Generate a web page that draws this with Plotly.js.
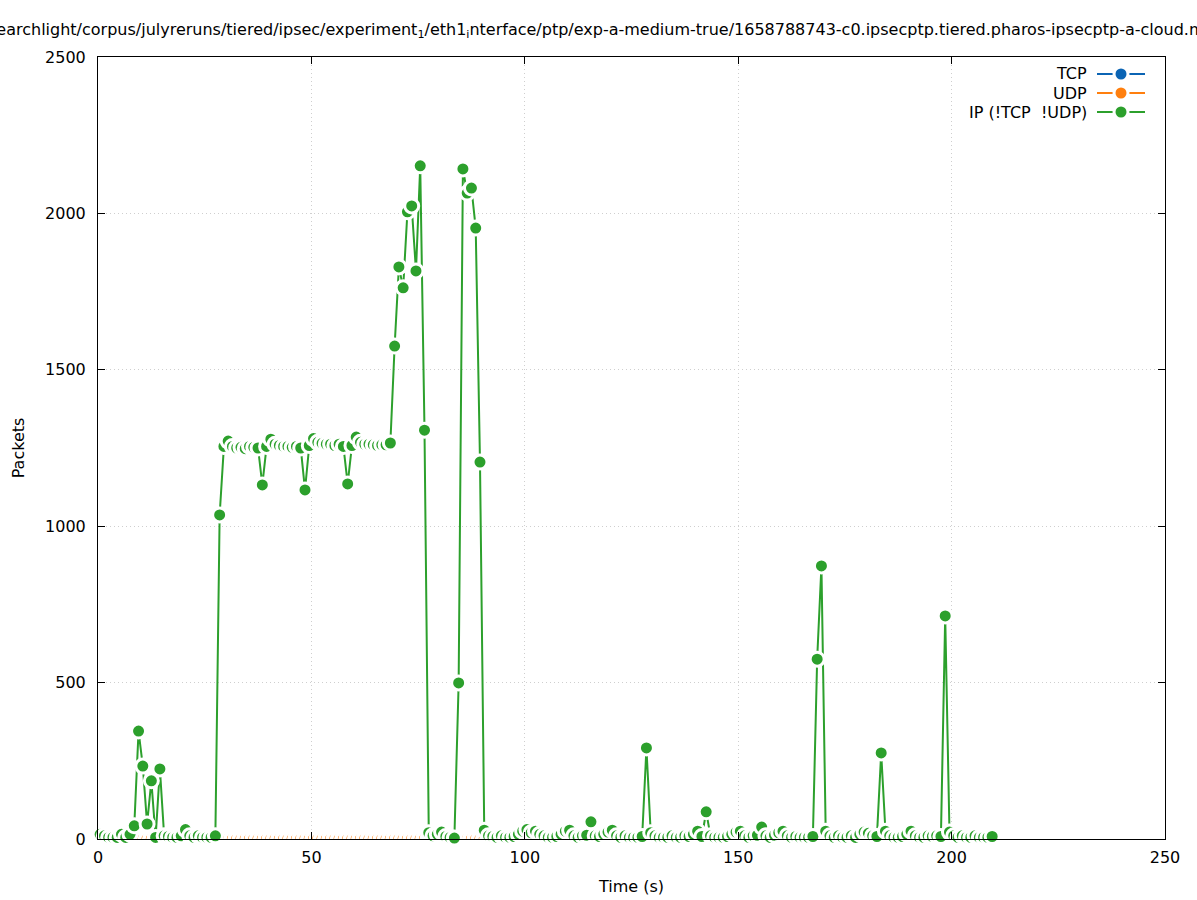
<!DOCTYPE html>
<html>
<head>
<meta charset="utf-8">
<script src="https://cdn.plot.ly/plotly-3.0.1.min.js"></script>
<style>html,body{margin:0;padding:0;background:#fff;}#chart{width:1197px;height:900px;}</style>
</head>
<body>
<div id="chart"></div>
<script>
// Sample times (s)
const times = [
  0.5,1.5,2.5,3.5,4.5,5.5,6.5,7.5,8.5,9.5,
  10.5,11.5,12.5,13.5,14.5,15.5,16.5,17.5,18.5,19.5,
  20.5,21.5,22.5,23.5,24.5,25.5,26.5,27.5,28.5,29.5,
  30.5,31.5,32.5,33.5,34.5,35.5,36.5,37.5,38.5,39.5,
  40.5,41.5,42.5,43.5,44.5,45.5,46.5,47.5,48.5,49.5,
  50.5,51.5,52.5,53.5,54.5,55.5,56.5,57.5,58.5,59.5,
  60.5,61.5,62.5,63.5,64.5,65.5,66.5,67.5,68.5,69.5,
  70.5,71.5,72.5,73.5,74.5,75.5,76.5,77.5,78.5,79.5,
  80.5,81.5,82.5,83.5,84.5,85.5,86.5,87.5,88.5,89.5,
  90.5,91.5,92.5,93.5,94.5,95.5,96.5,97.5,98.5,99.5,
  100.5,101.5,102.5,103.5,104.5,105.5,106.5,107.5,108.5,109.5,
  110.5,111.5,112.5,113.5,114.5,115.5,116.5,117.5,118.5,119.5,
  120.5,121.5,122.5,123.5,124.5,125.5,126.5,127.5,128.5,129.5,
  130.5,131.5,132.5,133.5,134.5,135.5,136.5,137.5,138.5,139.5,
  140.5,141.5,142.5,143.5,144.5,145.5,146.5,147.5,148.5,149.5,
  150.5,151.5,152.5,153.5,154.5,155.5,156.5,157.5,158.5,159.5,
  160.5,161.5,162.5,163.5,164.5,165.5,166.5,167.5,168.5,169.5,
  170.5,171.5,172.5,173.5,174.5,175.5,176.5,177.5,178.5,179.5,
  180.5,181.5,182.5,183.5,184.5,185.5,186.5,187.5,188.5,189.5,
  190.5,191.5,192.5,193.5,194.5,195.5,196.5,197.5,198.5,199.5,
  200.5,201.5,202.5,203.5,204.5,205.5,206.5,207.5,208.5,209.5
];

// TCP packets per interval
const tcpPackets = [
  0,0,0,0,0,0,0,0,0,0, 0,0,0,0,0,0,0,0,0,0, 0,0,0,0,0,0,0,0,0,0,
  0,0,0,0,0,0,0,0,0,0, 0,0,0,0,0,0,0,0,0,0, 0,0,0,0,0,0,0,0,0,0,
  0,0,0,0,0,0,0,0,0,0, 0,0,0,0,0,0,0,0,0,0, 0,0,0,0,0,0,0,0,0,0,
  0,0,0,0,0,0,0,0,0,0, 0,0,0,0,0,0,0,0,0,0, 0,0,0,0,0,0,0,0,0,0,
  0,0,0,0,0,0,0,0,0,0, 0,0,0,0,0,0,0,0,0,0, 0,0,0,0,0,0,0,0,0,0,
  0,0,0,0,0,0,0,0,0,0, 0,0,0,0,0,0,0,0,0,0, 0,0,0,0,0,0,0,0,0,0,
  0,0,0,0,0,0,0,0,0,0, 0,0,0,0,0,0,0,0,0,0, 0,0,0,0,0,0,0,0,0,0
];

// UDP packets per interval
const udpPackets = [
  0,0,0,0,0,0,0,0,0,0, 0,0,0,0,0,0,0,0,0,0, 0,0,0,0,0,0,0,0,0,0,
  0,0,0,0,0,0,0,0,0,0, 0,0,0,0,0,0,0,0,0,0, 0,0,0,0,0,0,0,0,0,0,
  0,0,0,0,0,0,0,0,0,0, 0,0,0,0,0,0,0,0,0,0, 0,0,0,0,0,0,0,0,0,0,
  0,0,0,0,0,0,0,0,0,0, 0,0,0,0,0,0,0,0,0,0, 0,0,0,0,0,0,0,0,0,0,
  0,0,0,0,0,0,0,0,0,0, 0,0,0,0,0,0,0,0,0,0, 0,0,0,0,0,0,0,0,0,0,
  0,0,0,0,0,0,0,0,0,0, 0,0,0,0,0,0,0,0,0,0, 0,0,0,0,0,0,0,0,0,0,
  0,0,0,0,0,0,0,0,0,0, 0,0,0,0,0,0,0,0,0,0, 0,0,0,0,0,0,0,0,0,0
];

// IP (!TCP !UDP) packets per interval
const ipPackets = [
  15,10,5,5,5,15,5,15,42,345,
  233,48,186,5,224,10,8,5,5,10,
  30,10,5,10,5,5,5,10,1036,1255,
  1272,1255,1250,1252,1248,1255,1252,1250,1132,1255,
  1278,1262,1258,1255,1255,1252,1255,1250,1116,1258,
  1280,1268,1265,1262,1262,1258,1262,1255,1135,1258,
  1285,1268,1262,1262,1260,1258,1260,1260,1266,1576,
  1829,1762,2005,2024,1816,2152,1307,20,10,15,
  22,8,5,3,499,2142,2065,2081,1953,1205,
  28,10,8,5,10,5,5,8,15,25,
  30,20,25,15,10,5,5,8,15,25,
  28,10,5,10,12,55,10,8,15,22,
  28,10,5,10,5,5,5,8,291,20,
  10,5,5,5,10,5,5,10,8,15,
  25,8,87,10,5,5,5,8,15,22,
  25,10,5,10,12,38,10,5,12,20,
  25,10,5,8,5,5,5,8,575,873,
  25,10,5,10,5,5,10,5,15,22,
  18,10,8,275,25,10,5,5,8,15,
  25,10,5,5,10,8,10,8,713,22,
  10,5,10,5,5,10,5,5,5,8
];

const seriesNames = ["TCP", "UDP", "IP (!TCP &nbsp;!UDP)"];
const seriesColors = ["#0b64b4", "#ff7f0e", "#2ca02c"];
const titleText = "searchlight/corpus/julyreruns/tiered/ipsec/experiment<sub>1</sub>/eth1<sub>i</sub>nterface/ptp/exp-a-medium-true/1658788743-c0.ipsecptp.tiered.pharos-ipsecptp-a-cloud.mergecap";

const FONT = "DejaVu Sans, Liberation Sans, sans-serif";
const FS = 16;
const seriesData = [tcpPackets, udpPackets, ipPackets];

const traces = seriesData.map((vals, k) => ({
  type: "scatter",
  mode: "lines+markers",
  x: times,
  y: vals,
  name: seriesNames[k],
  showlegend: false,
  cliponaxis: k === 2 ? false : true,
  line: {color: seriesColors[k], width: 2},
  marker: k === 2
    ? {color: seriesColors[k], size: 14, line: {color: "#ffffff", width: 3}}
    : {color: seriesColors[k], size: 15, line: {color: "#ffffff", width: 3.8}}
}));

// plot area in pixels: x 98..1165, y 57..839
const L = 98, R = 1165, T = 57, B = 839;
const px = v => (v - L) / (R - L);
const py = v => (B - v) / (B - T);

const annotations = [];
const shapes = [];
const legendRows = [74, 93, 112];
seriesNames.forEach((nm, k) => {
  const y = py(legendRows[k]);
  annotations.push({
    xref: "paper", yref: "paper", x: px(1089), y: y,
    xanchor: "right", yanchor: "middle", showarrow: false,
    text: nm, font: {family: FONT, size: FS, color: "#000"}
  });
  shapes.push({type: "line", xref: "paper", yref: "paper", x0: px(1097), x1: px(1145), y0: y, y1: y,
    line: {color: seriesColors[k], width: 2}});
  shapes.push({type: "circle", xref: "paper", yref: "paper", xsizemode: "pixel", ysizemode: "pixel",
    xanchor: px(1121), yanchor: y, x0: -8.5, x1: 8.5, y0: -8.5, y1: 8.5,
    fillcolor: "#ffffff", line: {width: 0}});
  shapes.push({type: "circle", xref: "paper", yref: "paper", xsizemode: "pixel", ysizemode: "pixel",
    xanchor: px(1121), yanchor: y, x0: -5.5, x1: 5.5, y0: -5.5, y1: 5.5,
    fillcolor: seriesColors[k], line: {width: 0}});
});

annotations.push({
  xref: "paper", yref: "paper", x: px(-14), y: py(30),
  xanchor: "left", yanchor: "middle", showarrow: false,
  text: titleText, font: {family: FONT, size: FS, color: "#000"}
});

const axisCommon = {
  showline: true, linecolor: "#000", linewidth: 1, mirror: "allticks",
  ticks: "inside", ticklen: 7, tickwidth: 1, tickcolor: "#000",
  showgrid: true, gridcolor: "#cfcfcf", griddash: "1px,3px", gridwidth: 1,
  zeroline: false, tickfont: {family: FONT, size: FS, color: "#000"}
};

const layout = {
  width: 1197, height: 900,
  margin: {l: L, r: 1197 - R, t: T, b: 900 - B},
  paper_bgcolor: "#fff", plot_bgcolor: "#fff",
  font: {family: FONT, size: FS, color: "#000"},
  xaxis: Object.assign({}, axisCommon, {
    range: [0, 250], dtick: 50, tick0: 0, ticklabelstandoff: 4,
    title: {text: "Time (s)", font: {family: FONT, size: FS}, standoff: 14}
  }),
  yaxis: Object.assign({}, axisCommon, {
    range: [0, 2500], dtick: 500, tick0: 0, ticklabelstandoff: 8,
    title: {text: "Packets", font: {family: FONT, size: FS}, standoff: 16}
  }),
  showlegend: false,
  annotations: annotations,
  shapes: shapes
};

Plotly.newPlot("chart", traces, layout, {staticPlot: true, displayModeBar: false});
</script>
</body>
</html>
